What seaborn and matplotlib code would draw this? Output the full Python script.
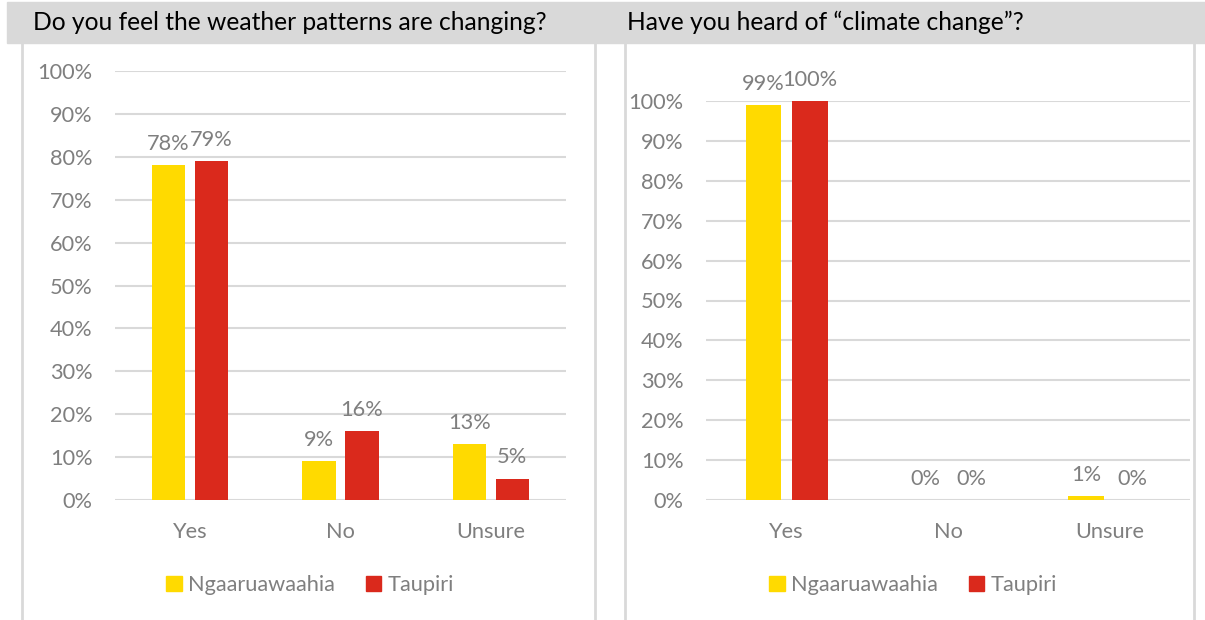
import pandas as pd
import matplotlib.pyplot as plt
import seaborn as sns
from matplotlib.patches import Rectangle
from matplotlib.lines import Line2D

# answer categories and the two towns
categories = ['Yes', 'No', 'Unsure']
towns = ['Ngaaruawaahia', 'Taupiri']

# Do you feel the weather patterns are changing? (percent)
weather_ngaaruawaahia = [78, 9, 13]
weather_taupiri = [79, 16, 5]

# Have you heard of "climate change"? (percent)
climate_ngaaruawaahia = [99, 0, 1]
climate_taupiri = [100, 0, 0]

titles = ['Do you feel the weather patterns are changing?',
          'Have you heard of \u201cclimate change\u201d?']
yticks = [0, 10, 20, 30, 40, 50, 60, 70, 80, 90, 100]

colors = ['#FFDA00', '#DA291C']
grey = '#7F7F7F'
line_grey = '#D9D9D9'
fs = 15.7

W, H = 1205, 620


def long_df(first, second):
    rows = []
    for cat, a, b in zip(categories, first, second):
        rows.append({'answer': cat, 'town': towns[0], 'pct': a})
        rows.append({'answer': cat, 'town': towns[1], 'pct': b})
    return pd.DataFrame(rows)


def px_axes(fig, left, right, top, bottom):
    return fig.add_axes([left / W, 1 - bottom / H, (right - left) / W, (bottom - top) / H])


def draw_panel(ax, data, legend_x):
    sns.barplot(data=data, x='answer', y='pct', hue='town', order=categories,
                hue_order=towns, palette=colors, width=0.572, gap=0.23,
                saturation=1, ax=ax, legend=False)
    ax.set_ylim(0, 100)
    ax.set_xlim(-0.5, 2.5)
    ax.set_yticks(yticks)
    ax.set_yticklabels([f'{t}%' for t in yticks])
    ax.grid(axis='y', color=line_grey, linewidth=1.5)
    ax.set_axisbelow(True)
    for s in ax.spines.values():
        s.set_visible(False)
    ax.tick_params(length=0, labelsize=fs, labelcolor=grey)
    ax.tick_params(axis='y', pad=16)
    ax.tick_params(axis='x', pad=16)
    ax.set_xlabel('')
    ax.set_ylabel('')
    for cont in ax.containers:
        for bar, v in zip(cont, cont.datavalues):
            ax.annotate(f'{v:.0f}%', (bar.get_x() + bar.get_width() / 2, bar.get_height()),
                        xytext=(0, 8), textcoords='offset points', ha='center',
                        va='bottom', fontsize=fs, color=grey)
    handles = [Rectangle((0, 0), 1, 1, color=c) for c in colors]
    fig.legend(handles, towns, loc='center', bbox_to_anchor=(legend_x / W, 1 - 585 / H),
               ncol=2, frameon=False, fontsize=fs, labelcolor=grey,
               handlelength=0.7, handleheight=0.7, handletextpad=0.3,
               columnspacing=1.4)


plt.rcParams['font.family'] = ['Lato', 'DejaVu Sans']
fig = plt.figure(figsize=(W / 100, H / 100), dpi=100)

# grey title band and panel borders
fig.add_artist(Rectangle((7 / W, 1 - 43 / H), (W - 7) / W, 41 / H,
                         transform=fig.transFigure, color=line_grey, zorder=0))
for x in [22, 595, 625, 1194]:
    fig.add_artist(Line2D([x / W, x / W], [0, 1 - 43 / H], transform=fig.transFigure,
                          color=line_grey, linewidth=2))

fig.text(33 / W, 1 - 22 / H, titles[0], fontsize=17.7, va='center', ha='left', color='black')
fig.text(627 / W, 1 - 22 / H, titles[1], fontsize=17.7, va='center', ha='left', color='black')

ax1 = px_axes(fig, 115, 566, 71, 500)
draw_panel(ax1, long_df(weather_ngaaruawaahia, weather_taupiri), 310)

ax2 = px_axes(fig, 706, 1190, 101, 500)
draw_panel(ax2, long_df(climate_ngaaruawaahia, climate_taupiri), 913)

fig.savefig('out.png', dpi=100)
